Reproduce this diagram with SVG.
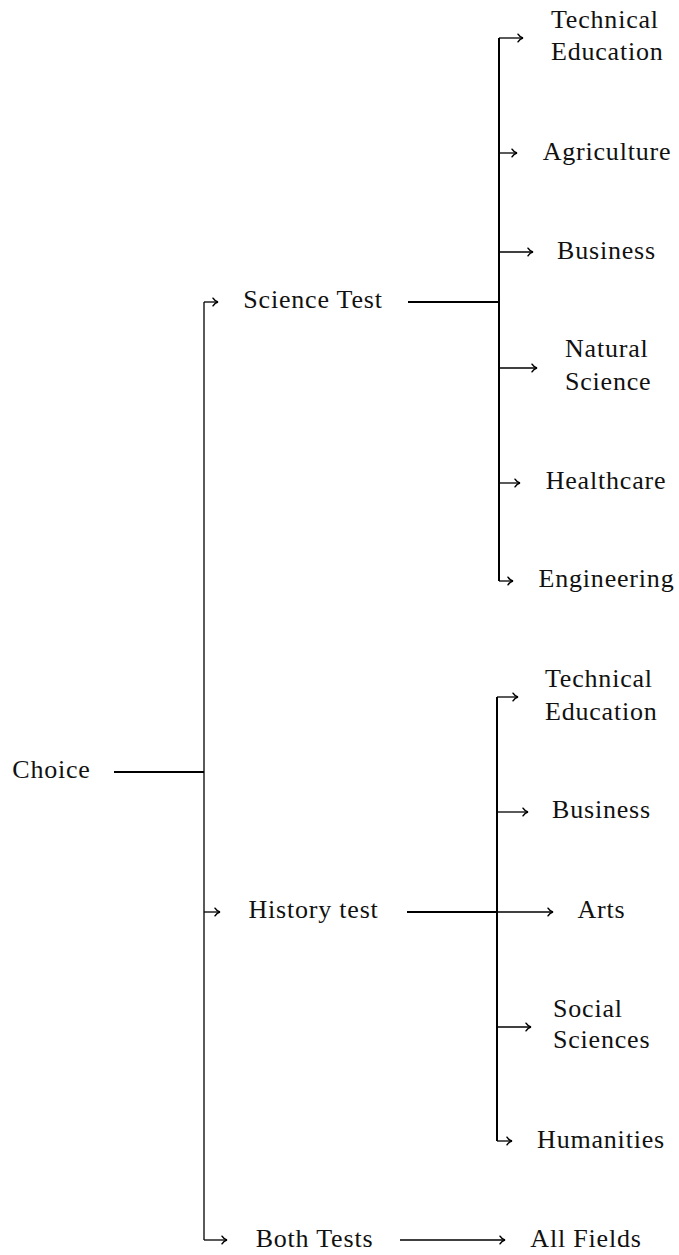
<svg xmlns="http://www.w3.org/2000/svg" width="679" height="1255" viewBox="0 0 679 1255">
  <style>
    .label { font-family: 'Liberation Serif', 'DejaVu Serif', serif; font-size: 26px; letter-spacing: 0.8px; fill: #111; }
    .mid { text-anchor: middle; }
    .trunk { stroke: #000; stroke-width: 2; fill: none; }
    .branch { stroke: #000; stroke-width: 1.3; fill: none; }
    .arrow { stroke: #000; stroke-width: 1.3; fill: none; marker-end: url(#tip); }
  </style>
  <defs>
    <marker id="tip" markerUnits="userSpaceOnUse" viewBox="-6 -5 8 10" refX="0" refY="0" markerWidth="8" markerHeight="10" orient="auto" overflow="visible">
      <path d="M-5,-3.8 C-3.5,-1.4 -1.3,-0.3 0,0 C-1.3,0.3 -3.5,1.4 -5,3.8" stroke="#000" stroke-width="1.5" fill="none" stroke-linecap="round"/>
    </marker>
  </defs>
  <rect width="679" height="1255" fill="#fff"/>

  <!-- connectors -->
  <g id="connectors">
    <!-- root fork -->
    <path class="trunk" d="M114,772 H204"/>
    <path class="branch" d="M204,302 V1240"/>
    <path class="arrow" d="M204,302 H218"/>
    <path class="arrow" d="M204,912 H220"/>
    <path class="arrow" d="M204,1240 H227"/>

    <!-- science fork -->
    <path class="trunk" d="M408,302 H499"/>
    <path class="trunk" d="M499,38 V581"/>
    <path class="arrow" d="M499,38 H523"/>
    <path class="arrow" d="M499,153 H517"/>
    <path class="arrow" d="M499,252 H533"/>
    <path class="arrow" d="M499,368 H537"/>
    <path class="arrow" d="M499,483 H520"/>
    <path class="arrow" d="M499,581 H513"/>

    <!-- history fork -->
    <path class="trunk" d="M407,912 H497"/>
    <path class="trunk" d="M497,697 V1141"/>
    <path class="arrow" d="M497,697 H518"/>
    <path class="arrow" d="M497,812 H528"/>
    <path class="arrow" d="M497,912 H553"/>
    <path class="arrow" d="M497,1027 H531"/>
    <path class="arrow" d="M497,1141 H512"/>

    <!-- both tests -->
    <path class="arrow" d="M400,1240 H505"/>
  </g>

  <!-- nodes -->
  <g id="choice"><text class="label mid" x="51.5" y="778">Choice</text></g>

  <g id="science-test"><text class="label mid" x="313" y="308">Science Test</text></g>
  <g id="history-test"><text class="label mid" x="313.5" y="918">History test</text></g>
  <g id="both-tests"><text class="label mid" x="314.5" y="1247">Both Tests</text></g>

  <g id="sci-technical-education">
    <text class="label" x="551" y="28">Technical</text>
    <text class="label" x="551" y="60">Education</text>
  </g>
  <g id="sci-agriculture"><text class="label mid" x="607" y="160">Agriculture</text></g>
  <g id="sci-business"><text class="label mid" x="606.5" y="259">Business</text></g>
  <g id="sci-natural-science">
    <text class="label" x="565" y="357">Natural</text>
    <text class="label" x="565" y="390">Science</text>
  </g>
  <g id="sci-healthcare"><text class="label mid" x="606" y="489">Healthcare</text></g>
  <g id="sci-engineering"><text class="label mid" x="606.5" y="587">Engineering</text></g>

  <g id="hist-technical-education">
    <text class="label" x="545" y="687">Technical</text>
    <text class="label" x="545" y="720">Education</text>
  </g>
  <g id="hist-business"><text class="label mid" x="601.5" y="818">Business</text></g>
  <g id="hist-arts"><text class="label mid" x="601.5" y="918">Arts</text></g>
  <g id="hist-social-sciences">
    <text class="label" x="553" y="1017">Social</text>
    <text class="label" x="553" y="1048">Sciences</text>
  </g>
  <g id="hist-humanities"><text class="label mid" x="601" y="1148">Humanities</text></g>

  <g id="all-fields"><text class="label mid" x="586" y="1247">All Fields</text></g>
</svg>
